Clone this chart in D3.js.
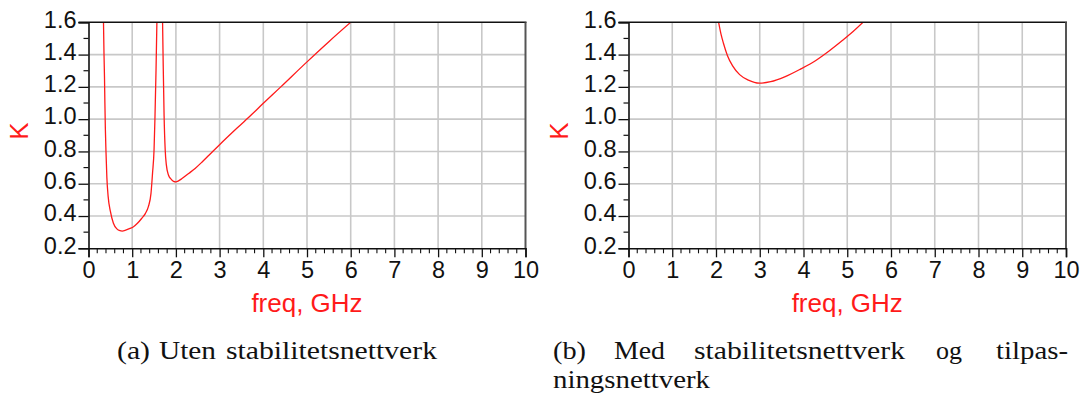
<!DOCTYPE html>
<html>
<head>
<meta charset="utf-8">
<script src="https://cdn.jsdelivr.net/npm/d3@7"></script>
<style>
  html, body { margin: 0; padding: 0; background: #fff; }
  svg { display: block; }
</style>
</head>
<body>
<svg id="fig" width="1085" height="396"></svg>
<script>
// Stability factor K versus frequency, two amplifier variants.
const freqTicks = [0, 1, 2, 3, 4, 5, 6, 7, 8, 9, 10];
const kTicks = [0.2, 0.4, 0.6, 0.8, 1.0, 1.2, 1.4, 1.6];

// (a) without stabilising network: two branches (curve leaves the plot near 1.6 GHz)
const freqA1 = [0.343, 0.355, 0.366, 0.375, 0.385, 0.40, 0.42, 0.45, 0.50, 0.57, 0.65, 0.72, 0.77, 0.85, 0.95, 1.03, 1.12, 1.22, 1.30, 1.37, 1.43, 1.465, 1.50, 1.52, 1.545, 1.565];
const kA1    = [1.6, 1.4, 1.26, 1.1, 0.95, 0.80, 0.64, 0.52, 0.43, 0.355, 0.32, 0.309, 0.307, 0.312, 0.323, 0.334, 0.355, 0.386, 0.415, 0.458, 0.54, 0.664, 0.81, 1.0, 1.3, 1.6];
const freqA2 = [1.695, 1.71, 1.73, 1.755, 1.78, 1.83, 1.885, 1.945, 2.0, 2.06, 2.14, 2.3, 2.44, 2.6, 2.75, 3.0, 3.4, 3.74, 4.0, 4.4, 5.0, 5.5, 6.0];
const kA2    = [1.6, 1.33, 1.02, 0.81, 0.72, 0.654, 0.63, 0.615, 0.612, 0.618, 0.632, 0.665, 0.695, 0.735, 0.775, 0.842, 0.945, 1.03, 1.098, 1.2, 1.355, 1.48, 1.6];

// (b) with stabilising and matching network
const freqB = [2.06, 2.12, 2.17, 2.26, 2.38, 2.54, 2.74, 2.99, 3.25, 3.57, 3.93, 4.29, 4.6, 4.88, 5.08, 5.36];
const kB    = [1.6, 1.52, 1.47, 1.395, 1.33, 1.276, 1.242, 1.223, 1.232, 1.262, 1.31, 1.365, 1.425, 1.485, 1.53, 1.6];

const svg = d3.select("#fig");
const RED = "#ff1a1a";
const SANS = "'Liberation Sans', Arial, sans-serif";
const SERIF = "'Liberation Serif', 'Times New Roman', serif";

function zip(fs, ks) { return fs.map((f, i) => ({ f: f, k: ks[i] })); }

function panel(id, left, right, series) {
  const top = 22.3, bottom = 248.3;
  const x = d3.scaleLinear().domain([0, 10]).range([left, right]);
  const y = d3.scaleLinear().domain([0.2, 1.6]).range([bottom, top]);
  const g = svg.append("g");

  // grid
  g.append("g").selectAll("line").data(freqTicks.slice(1, -1)).join("line")
    .attr("x1", d => x(d)).attr("x2", d => x(d)).attr("y1", top).attr("y2", bottom)
    .attr("stroke", "#c8c8c8").attr("stroke-width", 1.6);
  g.append("g").selectAll("line").data(kTicks.slice(1, -1)).join("line")
    .attr("x1", left).attr("x2", right).attr("y1", d => y(d)).attr("y2", d => y(d))
    .attr("stroke", "#c8c8c8").attr("stroke-width", 1.6);

  // curves
  const clipId = "clip-" + id;
  svg.append("clipPath").attr("id", clipId).append("rect")
    .attr("x", left).attr("y", top).attr("width", right - left).attr("height", bottom - top);
  const line = d3.line().x(d => x(d.f)).y(d => y(d.k)).curve(d3.curveMonotoneX);
  g.append("g").attr("clip-path", `url(#${clipId})`).selectAll("path").data(series).join("path")
    .attr("d", line).attr("fill", "none").attr("stroke", RED).attr("stroke-width", 1.3);

  // frame: top and right
  g.append("line").attr("x1", left - 10).attr("x2", right + 1).attr("y1", top).attr("y2", top)
    .attr("stroke", "#111").attr("stroke-width", 1.6);
  g.append("line").attr("x1", right).attr("x2", right).attr("y1", top).attr("y2", bottom)
    .attr("stroke", "#555").attr("stroke-width", 2);

  // y axis with minor ticks
  const yAxis = d3.axisLeft(y).tickValues(kTicks).tickFormat(d3.format(".1f")).tickSize(10).tickPadding(2);
  const ya = g.append("g").attr("transform", `translate(${left},0)`).call(yAxis);
  ya.select(".domain").attr("stroke", "#111").attr("stroke-width", 1.6);
  ya.selectAll(".tick line").attr("stroke", "#111").attr("stroke-width", 1.3);
  ya.selectAll(".tick text").attr("font-family", SANS).attr("font-size", 23.5).attr("fill", "#111").attr("dy", "0.2em");
  const yMinor = d3.range(0.3, 1.6, 0.2);
  g.append("g").selectAll("line").data(yMinor).join("line")
    .attr("x1", left - 5).attr("x2", left).attr("y1", d => y(d)).attr("y2", d => y(d))
    .attr("stroke", "#111").attr("stroke-width", 1.2);

  // x axis with minor ticks
  const xAxis = d3.axisBottom(x).tickValues(freqTicks).tickFormat(d3.format("d")).tickSize(9).tickPadding(4);
  const xa = g.append("g").attr("transform", `translate(0,${bottom})`).call(xAxis);
  xa.select(".domain").attr("stroke", "#111").attr("stroke-width", 1.6);
  xa.selectAll(".tick line").attr("stroke", "#111").attr("stroke-width", 1.3);
  xa.selectAll(".tick text").attr("font-family", SANS).attr("font-size", 23.5).attr("fill", "#111");
  const xMinor = d3.range(0.2, 10, 0.2).filter(v => Math.abs(v - Math.round(v)) > 1e-6);
  g.append("g").selectAll("line").data(xMinor).join("line")
    .attr("x1", d => x(d)).attr("x2", d => x(d)).attr("y1", bottom).attr("y2", bottom + 5)
    .attr("stroke", "#111").attr("stroke-width", 1.1);

  // axis titles
  g.append("text").attr("transform", `translate(${left - 61},131) rotate(-90)`)
    .attr("text-anchor", "middle").attr("font-family", SANS).attr("font-size", 26).attr("fill", RED).text("K");
  g.append("text").attr("x", (left + right) / 2).attr("y", 312)
    .attr("text-anchor", "middle").attr("font-family", SANS).attr("font-size", 26).attr("fill", RED).text("freq, GHz");
}

panel("a", 88.5, 525.5, [zip(freqA1, kA1), zip(freqA2, kA2)]);
panel("b", 628.5, 1066, [zip(freqB, kB)]);

// sub-figure captions
const cap = svg.append("g").attr("font-family", SERIF).attr("font-size", 25).attr("fill", "#111");
function word(txt, x0, x1, yb) {
  cap.append("text").attr("x", x0).attr("y", yb).attr("textLength", x1 - x0)
    .attr("lengthAdjust", "spacingAndGlyphs").text(txt);
}
word("(a)", 117, 150, 359);
word("Uten", 159, 216, 359);
word("stabilitetsnettverk", 226, 437, 359);

word("(b)", 553, 586, 359);
word("Med", 614, 665, 359);
word("stabilitetsnettverk", 694, 905, 359);
word("og", 936, 962, 359);
word("tilpas-", 996, 1068, 359);
word("ningsnettverk", 553, 710, 388);
</script>
</body>
</html>
